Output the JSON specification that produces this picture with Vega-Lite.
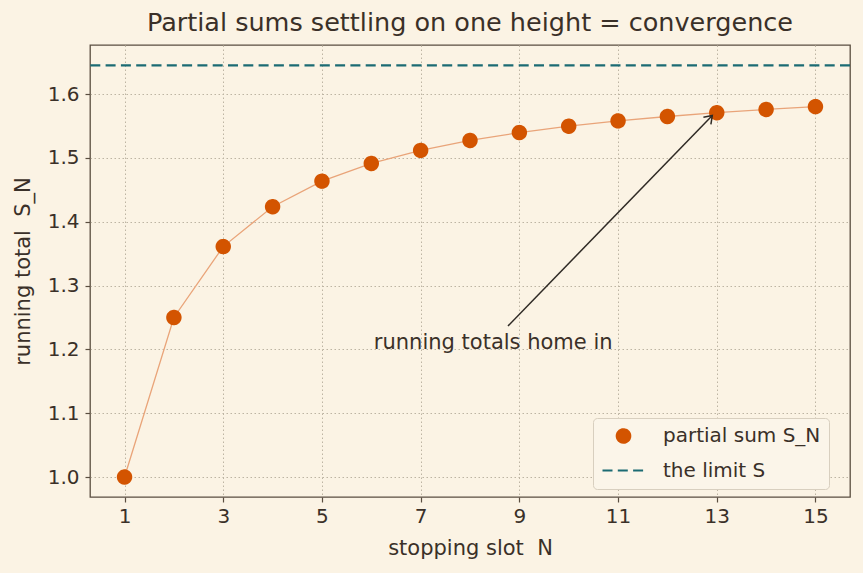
{
  "$schema": "https://vega.github.io/schema/vega-lite/v6.json",
  "autosize": {"type": "none"},
  "width": 760,
  "height": 452,
  "padding": {"left": 90, "top": 45, "right": 13, "bottom": 76},
  "background": "#FBF3E4",
  "config": {
    "font": "DejaVu Sans",
    "view": {"stroke": "#5a4e40", "strokeWidth": 1.3, "fill": "#FBF3E4"},
    "axis": {
      "domain": false,
      "labelColor": "#3a3028",
      "labelFontSize": 20,
      "titleColor": "#3a3028",
      "titleFontSize": 21,
      "titleFontWeight": "normal",
      "tickColor": "#5a4e40",
      "tickSize": 5,
      "tickWidth": 1.2,
      "gridColor": "#bdb4a3",
      "gridDash": [1.5, 2.5],
      "gridWidth": 1
    }
  },
  "title": {
    "text": "Partial sums settling on one height = convergence",
    "fontSize": 25.5,
    "fontWeight": "normal",
    "color": "#3a3028",
    "anchor": "middle",
    "frame": "group",
    "offset": 9
  },
  "data": {
    "values": [
      {"N": 1, "S": 1.0, "series": "partial sum S_N"},
      {"N": 2, "S": 1.25, "series": "partial sum S_N"},
      {"N": 3, "S": 1.361111, "series": "partial sum S_N"},
      {"N": 4, "S": 1.423611, "series": "partial sum S_N"},
      {"N": 5, "S": 1.463611, "series": "partial sum S_N"},
      {"N": 6, "S": 1.491389, "series": "partial sum S_N"},
      {"N": 7, "S": 1.511797, "series": "partial sum S_N"},
      {"N": 8, "S": 1.527422, "series": "partial sum S_N"},
      {"N": 9, "S": 1.539768, "series": "partial sum S_N"},
      {"N": 10, "S": 1.549768, "series": "partial sum S_N"},
      {"N": 11, "S": 1.558032, "series": "partial sum S_N"},
      {"N": 12, "S": 1.564977, "series": "partial sum S_N"},
      {"N": 13, "S": 1.570894, "series": "partial sum S_N"},
      {"N": 14, "S": 1.575996, "series": "partial sum S_N"},
      {"N": 15, "S": 1.58044, "series": "partial sum S_N"}
    ]
  },
  "layer": [
    {
      "mark": {"type": "line", "color": "#E9A479", "strokeWidth": 1.3},
      "encoding": {
        "x": {"field": "N", "type": "quantitative", "scale": {"domain": [0.3, 15.7], "nice": false, "zero": false},
              "axis": {"values": [1, 3, 5, 7, 9, 11, 13, 15], "title": "stopping slot \u00a0N", "titlePadding": 11, "labelPadding": 4}},
        "y": {"field": "S", "type": "quantitative", "scale": {"domain": [0.9687, 1.677], "nice": false, "zero": false},
              "axis": {"values": [1.0, 1.1, 1.2, 1.3, 1.4, 1.5, 1.6], "format": ".1f", "title": "running total \u00a0S_N", "titlePadding": 14, "labelPadding": 6}}
      }
    },
    {
      "data": {"values": [{"series": "the limit S", "S": 1.644934}]},
      "mark": {"type": "rule", "strokeWidth": 2.2, "strokeDash": [10, 5.3], "color": "#1B6B73"},
      "encoding": {
        "y": {"field": "S", "type": "quantitative"}
      }
    },
    {
      "mark": {"type": "point", "filled": true, "opacity": 1},
      "encoding": {
        "x": {"field": "N", "type": "quantitative"},
        "y": {"field": "S", "type": "quantitative"},
        "color": {
          "field": "series", "type": "nominal",
          "scale": {"domain": ["partial sum S_N", "the limit S"], "range": ["#D35400", "#1B6B73"]},
          "legend": {
            "title": null,
            "orient": "none",
            "legendX": 503,
            "legendY": 373,
            "labelFontSize": 20,
            "labelColor": "#3a3028",
            "fillColor": "#FBF5E9",
            "strokeColor": "#d8cfbf",
            "cornerRadius": 4,
            "padding": 8,
            "rowPadding": -2,
            "labelOffset": 17,
            "symbolStrokeWidth": 2.2,
            "symbolOpacity": 1
          }
        },
        "stroke": {
          "field": "series", "type": "nominal",
          "scale": {"domain": ["partial sum S_N", "the limit S"], "range": ["#D35400", "#1B6B73"]}
        },
        "shape": {
          "field": "series", "type": "nominal",
          "scale": {"domain": ["partial sum S_N", "the limit S"], "range": ["circle", "stroke"]}
        },
        "size": {
          "field": "series", "type": "nominal",
          "scale": {"domain": ["partial sum S_N", "the limit S"], "range": [180, 1764]}
        },
        "strokeDash": {
          "field": "series", "type": "nominal",
          "scale": {"domain": ["partial sum S_N", "the limit S"], "range": [[1, 0], [10, 5.3]]}
        }
      }
    },
    {
      "data": {"values": [{"x": 8.77, "y": 1.2367, "x2": 12.91, "y2": 1.5665}]},
      "mark": {"type": "rule", "color": "#2f2a25", "strokeWidth": 1.5},
      "encoding": {
        "x": {"field": "x", "type": "quantitative"},
        "y": {"field": "y", "type": "quantitative"},
        "x2": {"field": "x2"},
        "y2": {"field": "y2"}
      }
    },
    {
      "data": {"values": [{"x2": 12.91, "y2": 1.5665}]},
      "mark": {"type": "point", "shape": "M -0.7 1 L 0 0 L 0.7 1", "filled": false, "stroke": "#2f2a25", "strokeWidth": 1.5, "size": 220, "angle": 44, "opacity": 1},
      "encoding": {
        "x": {"field": "x2", "type": "quantitative"},
        "y": {"field": "y2", "type": "quantitative"}
      }
    },
    {
      "data": {"values": [{"x": 8.47, "y": 1.21, "label": "running totals home in"}]},
      "mark": {"type": "text", "fontSize": 21, "color": "#3a3028", "align": "center", "baseline": "middle"},
      "encoding": {
        "x": {"field": "x", "type": "quantitative"},
        "y": {"field": "y", "type": "quantitative"},
        "text": {"field": "label"}
      }
    }
  ]
}
